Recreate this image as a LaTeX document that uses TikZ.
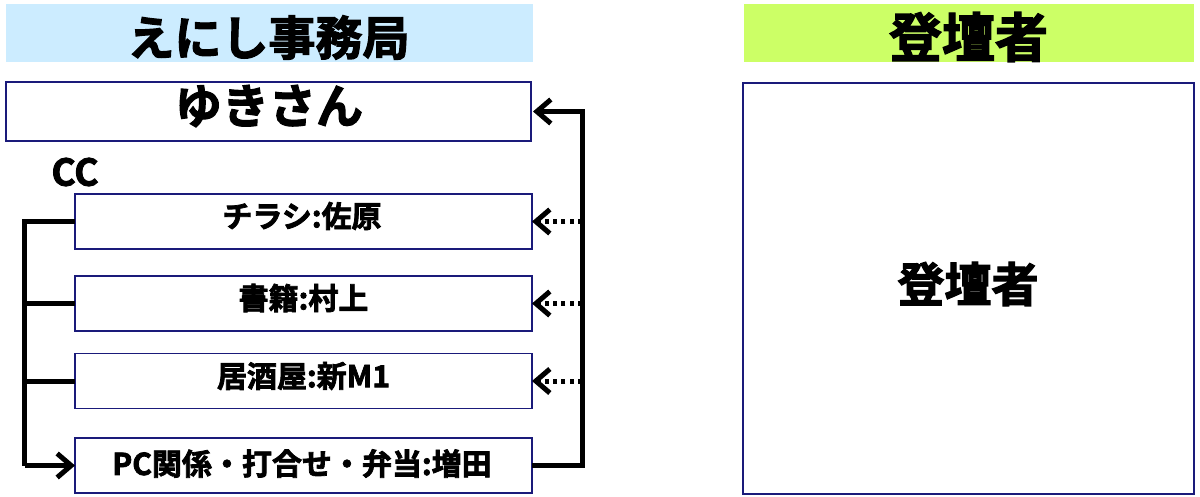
\documentclass[tikz,border=0pt]{standalone}
\usepackage{fontspec}
\setmainfont{Noto Sans CJK JP Bold}[FakeBold=2.5]
\usetikzlibrary{arrows.meta}
\definecolor{hdrblue}{HTML}{CCECFF}
\definecolor{hdrgreen}{HTML}{CCFF66}
\definecolor{navy}{HTML}{1A1A7A}
\begin{document}
\begin{tikzpicture}[x=1pt,y=-1pt,
  hdr/.style={draw=none, inner sep=0pt, outer sep=0pt},
  box/.style={draw=navy, line width=1.5pt, fill=white, inner sep=0pt, outer sep=0pt},
  conn/.style={line width=5pt, line join=miter, line cap=butt},
  tipped/.style={-{Straight Barb[length=14pt,width=24pt]}},
  dotc/.style={conn, dash pattern=on 4pt off 4.3pt, -{Straight Barb[length=14pt,width=24pt]}},
  big/.style={inner sep=0pt, font=\fontsize{47pt}{56pt}\selectfont},
  small/.style={inner sep=0pt, font=\fontsize{30pt}{36pt}\selectfont}]
\useasboundingbox (0,0) rectangle (1200,496);
% headers
\node[hdr, fill=hdrblue, minimum width=527pt, minimum height=58pt] (hl) at (269.5,33) {};
\node[big] (hlt) at (268.5,37.5) {えにし事務局};
\node[hdr, fill=hdrgreen, minimum width=450pt, minimum height=58pt] (hr) at (969,33) {};
\node[inner sep=0pt, font=\fontsize{53pt}{60pt}\selectfont] (hrt) at (968.5,37) {登壇者};
% left boxes
\node[box, minimum width=525pt, minimum height=59pt] (yuki) at (268.5,111.5) {};
\node[big] (yukit) at (269,106) {ゆきさん};
\node[inner sep=0pt, font=\fontsize{37pt}{44pt}\selectfont] (cc) at (75,172) {CC};
\node[box, minimum width=457pt, minimum height=55pt] (b1) at (303.5,221.5) {};
\node[small] (b1t) at (302,216) {チラシ:佐原};
\node[box, minimum width=457pt, minimum height=55pt] (b2) at (303.5,303.5) {};
\node[small] (b2t) at (303.5,298) {書籍:村上};
\node[box, minimum width=457pt, minimum height=55pt] (b3) at (303.5,381) {};
\node[small] (b3t) at (303.5,376) {居酒屋:新M1};
\node[box, minimum width=457pt, minimum height=55pt] (b4) at (303.5,465.5) {};
\node[small] (b4t) at (302,463.5) {PC関係・打合せ・弁当:増田};
% right box
\node[box, minimum width=451pt, minimum height=411pt] (dan) at (968.5,288.5) {};
\node[big] (dant) at (968,284) {登壇者};
% left bracket
\coordinate (L) at (24.5,0);
\coordinate (R) at (582,0);
\draw[conn] (b1.west) -- (b1.west -| L) -- (b4.west -| L);
\draw[conn] (b2.west) -- (b2.west -| L);
\draw[conn] (b3.west) -- (b3.west -| L);
\draw[conn, tipped] (b4.west -| L) -- (b4.west);
% right return
\draw[conn, tipped, shorten >=2pt] (b4.east) -- (b4.east -| R) |- (yuki.east);
\draw[dotc] (b1.east -| R) -- (b1.east);
\draw[dotc] (b2.east -| R) -- (b2.east);
\draw[dotc] (b3.east -| R) -- (b3.east);
\end{tikzpicture}
\end{document}
